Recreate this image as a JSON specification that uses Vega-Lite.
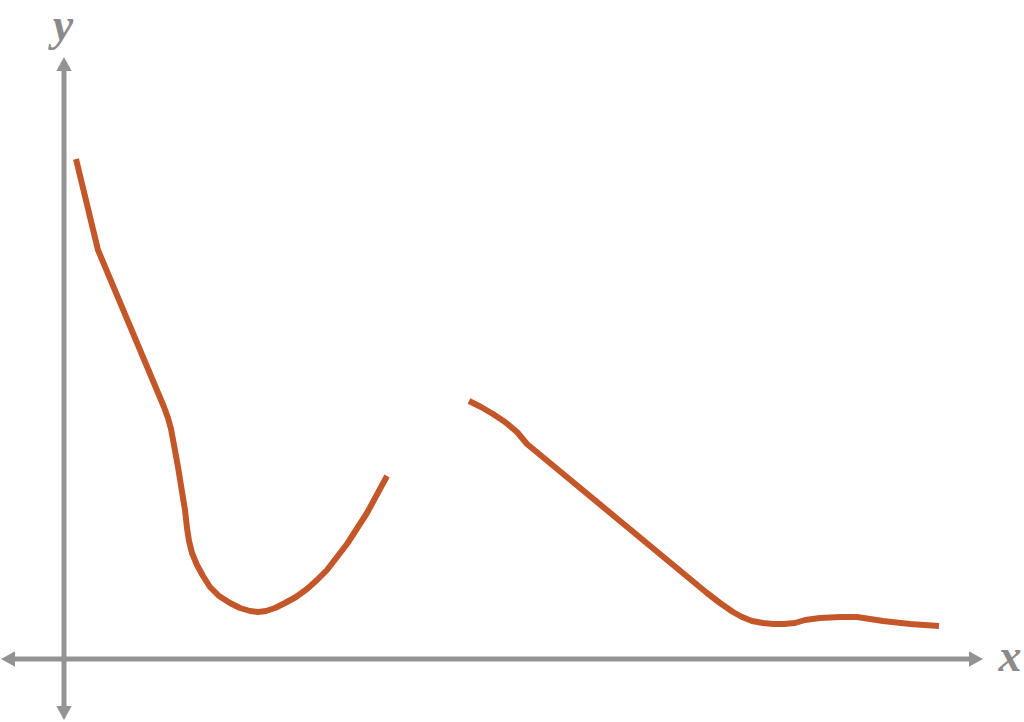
{
  "$schema": "https://vega.github.io/schema/vega-lite/v6.json",
  "width": 1024,
  "height": 722,
  "padding": 0,
  "autosize": {"type": "fit", "contains": "padding"},
  "background": "white",
  "config": {"view": {"stroke": null}},
  "datasets": {
    "axes": [
      {"axis": "x", "x": -56, "x2": 912, "y": 0, "y2": 0},
      {"axis": "y", "x": 0, "x2": 0, "y": -54, "y2": 595}
    ],
    "heads": [
      {"dir": "right", "x": 912, "y": 0},
      {"dir": "left", "x": -56, "y": 0},
      {"dir": "up", "x": 0, "y": 595},
      {"dir": "down", "x": 0, "y": -54}
    ],
    "curve": [
      {"seg": 1, "x": 12, "y": 500},
      {"seg": 1, "x": 34, "y": 409},
      {"seg": 1, "x": 100, "y": 252},
      {"seg": 1, "x": 104, "y": 241},
      {"seg": 1, "x": 107, "y": 230},
      {"seg": 1, "x": 110, "y": 214},
      {"seg": 1, "x": 114, "y": 192},
      {"seg": 1, "x": 121, "y": 149},
      {"seg": 1, "x": 123, "y": 131},
      {"seg": 1, "x": 125, "y": 118},
      {"seg": 1, "x": 128, "y": 106},
      {"seg": 1, "x": 133, "y": 94},
      {"seg": 1, "x": 139, "y": 83},
      {"seg": 1, "x": 146, "y": 72},
      {"seg": 1, "x": 155, "y": 63},
      {"seg": 1, "x": 166, "y": 56},
      {"seg": 1, "x": 176, "y": 51},
      {"seg": 1, "x": 186, "y": 48},
      {"seg": 1, "x": 194, "y": 47},
      {"seg": 1, "x": 202, "y": 48},
      {"seg": 1, "x": 211, "y": 51},
      {"seg": 1, "x": 221, "y": 56},
      {"seg": 1, "x": 232, "y": 62},
      {"seg": 1, "x": 243, "y": 70},
      {"seg": 1, "x": 253, "y": 79},
      {"seg": 1, "x": 263, "y": 89},
      {"seg": 1, "x": 283, "y": 115},
      {"seg": 1, "x": 303, "y": 146},
      {"seg": 1, "x": 323, "y": 183},
      {"seg": 2, "x": 405, "y": 258},
      {"seg": 2, "x": 417, "y": 252},
      {"seg": 2, "x": 429, "y": 245},
      {"seg": 2, "x": 441, "y": 237},
      {"seg": 2, "x": 453, "y": 227},
      {"seg": 2, "x": 463, "y": 215},
      {"seg": 2, "x": 643, "y": 66},
      {"seg": 2, "x": 656, "y": 56},
      {"seg": 2, "x": 669, "y": 47},
      {"seg": 2, "x": 678, "y": 42},
      {"seg": 2, "x": 688, "y": 38},
      {"seg": 2, "x": 699, "y": 36},
      {"seg": 2, "x": 709, "y": 35},
      {"seg": 2, "x": 720, "y": 35},
      {"seg": 2, "x": 731, "y": 36},
      {"seg": 2, "x": 741, "y": 39},
      {"seg": 2, "x": 756, "y": 41},
      {"seg": 2, "x": 776, "y": 42},
      {"seg": 2, "x": 793, "y": 42},
      {"seg": 2, "x": 806, "y": 40},
      {"seg": 2, "x": 819, "y": 38},
      {"seg": 2, "x": 846, "y": 35},
      {"seg": 2, "x": 875, "y": 33}
    ],
    "labels": [
      {"label": "x", "x": 946, "y": -12},
      {"label": "y", "x": -1, "y": 619}
    ]
  },
  "layer": [
    {
      "data": {"name": "axes"},
      "mark": {"type": "rule", "color": "#939393", "strokeWidth": 5},
      "encoding": {
        "x": {"field": "x", "type": "quantitative", "scale": {"domain": [-64, 960], "nice": false, "zero": false}, "axis": null},
        "x2": {"field": "x2"},
        "y": {"field": "y", "type": "quantitative", "scale": {"domain": [-63, 659], "nice": false, "zero": false}, "axis": null},
        "y2": {"field": "y2"}
      }
    },
    {
      "data": {"name": "heads"},
      "mark": {"type": "point", "filled": true, "color": "#939393", "opacity": 1, "size": 196},
      "encoding": {
        "x": {"field": "x", "type": "quantitative", "axis": null},
        "y": {"field": "y", "type": "quantitative", "axis": null},
        "shape": {
          "field": "dir",
          "type": "nominal",
          "legend": null,
          "scale": {
            "domain": ["right", "left", "up", "down"],
            "range": ["M1,0L-1,-1.1L-1,1.1Z", "M-1,0L1,-1.1L1,1.1Z", "M0,-1L-1.1,1L1.1,1Z", "M0,1L-1.1,-1L1.1,-1Z"]
          }
        }
      }
    },
    {
      "data": {"name": "curve"},
      "mark": {"type": "line", "color": "#c4572a", "strokeWidth": 6, "interpolate": "linear", "strokeJoin": "round"},
      "encoding": {
        "x": {"field": "x", "type": "quantitative", "axis": null},
        "y": {"field": "y", "type": "quantitative", "axis": null},
        "detail": {"field": "seg", "type": "nominal"}
      }
    },
    {
      "data": {"name": "labels"},
      "mark": {"type": "text", "font": "Liberation Serif", "fontStyle": "italic", "fontWeight": "bold", "fontSize": 46, "color": "#8a8a8a", "align": "center", "baseline": "alphabetic"},
      "encoding": {
        "x": {"field": "x", "type": "quantitative", "axis": null},
        "y": {"field": "y", "type": "quantitative", "axis": null},
        "text": {"field": "label"}
      }
    }
  ]
}
